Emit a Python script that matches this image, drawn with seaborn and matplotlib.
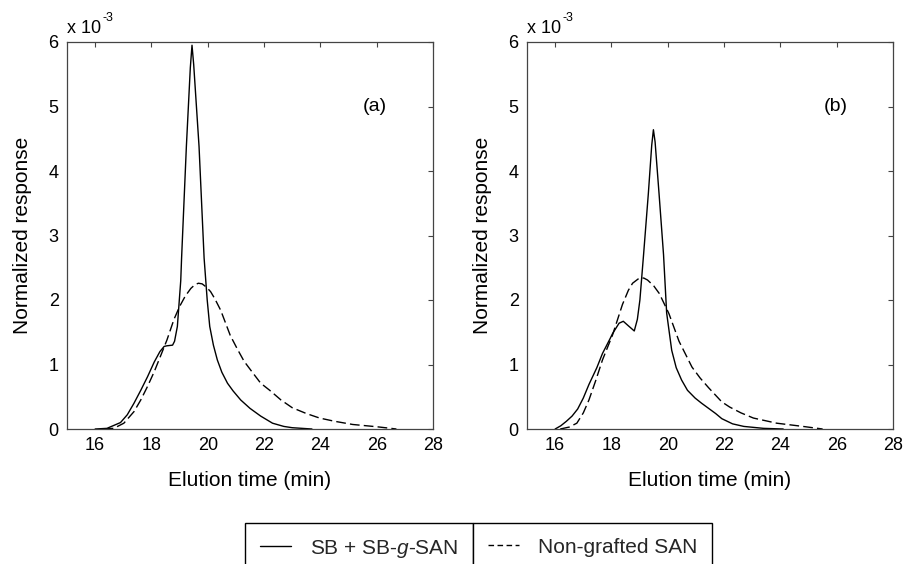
import matplotlib
matplotlib.use("Agg")
import matplotlib.pyplot as plt
from matplotlib.lines import Line2D
import seaborn as sns
import pandas as pd

# ---------------- data (response in units of 10^-3) ----------------
# Panel (a)
time_a_graft = [16.0, 16.42, 16.9, 17.14, 17.38, 17.62, 17.86, 18.1, 18.3, 18.45,
                18.55, 18.75, 18.82, 18.92, 19.04, 19.07, 19.24, 19.38, 19.44, 19.5,
                19.69, 19.87, 19.98, 20.07, 20.2, 20.34, 20.5, 20.7, 20.9, 21.17,
                21.5, 21.88, 22.3, 22.7, 23.0, 23.7]
resp_a_graft = [0.0, 0.01, 0.1, 0.22, 0.4, 0.6, 0.81, 1.04, 1.2, 1.28,
                1.29, 1.3, 1.36, 1.59, 2.3, 2.65, 4.38, 5.6, 5.95, 5.65,
                4.38, 2.65, 2.0, 1.59, 1.3, 1.07, 0.88, 0.71, 0.59, 0.45,
                0.32, 0.2, 0.09, 0.04, 0.02, 0.0]

time_a_free = [16.3, 16.66, 17.02, 17.38, 17.62, 17.86, 18.1, 18.34, 18.55, 18.8,
               19.0, 19.2, 19.4, 19.55, 19.67, 19.8, 19.95, 20.1, 20.25, 20.46,
               20.8, 21.05, 21.29, 21.6, 21.88, 22.2, 22.6, 23.0, 23.5, 23.97,
               24.5, 25.15, 26.0, 26.7]
resp_a_free = [0.0, 0.01, 0.09, 0.27, 0.45, 0.66, 0.89, 1.15, 1.38, 1.7,
               1.9, 2.06, 2.18, 2.24, 2.26, 2.25, 2.2, 2.13, 2.02, 1.84,
               1.45, 1.24, 1.05, 0.87, 0.71, 0.6, 0.45, 0.33, 0.24, 0.17,
               0.12, 0.07, 0.035, 0.0]

# Panel (b)
time_b_graft = [16.0, 16.2, 16.4, 16.6, 16.8, 17.0, 17.2, 17.48, 17.68, 17.95,
                18.04, 18.27, 18.42, 18.6, 18.81, 18.92, 19.01, 19.14, 19.31, 19.43,
                19.49, 19.55, 19.69, 19.85, 19.96, 20.14, 20.3, 20.49, 20.7, 20.97,
                21.2, 21.45, 21.7, 21.92, 22.3, 22.7, 23.4, 24.1]
resp_b_graft = [0.0, 0.05, 0.12, 0.2, 0.31, 0.48, 0.69, 0.95, 1.17, 1.4,
                1.48, 1.64, 1.67, 1.6, 1.52, 1.7, 2.0, 2.7, 3.65, 4.4,
                4.64, 4.45, 3.65, 2.7, 1.8, 1.22, 0.95, 0.76, 0.6, 0.48,
                0.4, 0.32, 0.24, 0.16, 0.08, 0.04, 0.01, 0.0]

time_b_free = [16.18, 16.5, 16.77, 17.0, 17.2, 17.44, 17.68, 18.04, 18.39, 18.6,
               18.75, 18.99, 19.15, 19.28, 19.5, 19.7, 20.04, 20.4, 20.86, 21.15,
               21.45, 21.92, 22.2, 22.6, 23.04, 23.87, 24.8, 25.5]
resp_b_free = [0.0, 0.03, 0.09, 0.25, 0.45, 0.75, 1.07, 1.46, 1.93, 2.15,
               2.26, 2.34, 2.34, 2.31, 2.22, 2.1, 1.79, 1.36, 0.96, 0.79,
               0.64, 0.42, 0.34, 0.25, 0.17, 0.09, 0.04, 0.0]

x_ticks = [16, 18, 20, 22, 24, 26, 28]
y_ticks = [0, 1, 2, 3, 4, 5, 6]
panel_tags = ["(a)", "(b)"]
series_labels = [r"SB + SB-$\mathit{g}$-SAN", "Non-grafted SAN"]

# ---------------- style ----------------
sns.set_theme(style="white")
plt.rcParams["font.family"] = ["Liberation Sans", "DejaVu Sans"]
plt.rcParams["mathtext.fontset"] = "custom"
plt.rcParams["mathtext.rm"] = "Liberation Sans"
plt.rcParams["mathtext.it"] = "Liberation Sans:italic"
plt.rcParams["mathtext.default"] = "regular"

fig = plt.figure(figsize=(9.04, 5.64), dpi=100)
ax_a = fig.add_axes([67 / 904, 1 - 429 / 564, 366 / 904, 387 / 564])
ax_b = fig.add_axes([527 / 904, 1 - 429 / 564, 366 / 904, 387 / 564])

dash_plot = (0, (7, 3))
panels = [
    (ax_a, time_a_graft, resp_a_graft, time_a_free, resp_a_free, panel_tags[0]),
    (ax_b, time_b_graft, resp_b_graft, time_b_free, resp_b_free, panel_tags[1]),
]

for ax, tg, rg, tf, rf, tag in panels:
    df_g = pd.DataFrame({"t": tg, "r": rg})
    df_f = pd.DataFrame({"t": tf, "r": rf})
    sns.lineplot(data=df_g, x="t", y="r", ax=ax, color="black", lw=1.0,
                 estimator=None, sort=False)
    sns.lineplot(data=df_f, x="t", y="r", ax=ax, color="black", lw=1.0,
                 linestyle=dash_plot, estimator=None, sort=False)
    ax.set_xlim(15, 28)
    ax.set_ylim(0, 6)
    ax.set_xticks(x_ticks)
    ax.set_yticks(y_ticks)
    ax.set_xticklabels([str(v) for v in x_ticks])
    ax.set_yticklabels([str(v) for v in y_ticks])
    ax.tick_params(direction="in", top=True, right=True, length=3.5, width=0.8,
                   color="#444444", labelsize=13, labelcolor="black")
    ax.tick_params(axis="x", pad=6)
    ax.tick_params(axis="y", pad=6)
    for sp in ax.spines.values():
        sp.set_color("#444444")
        sp.set_linewidth(0.9)
    ax.set_xlabel("Elution time (min)", fontsize=15, labelpad=12, color="black")
    ax.set_ylabel("Normalized response", fontsize=15, labelpad=12, color="black")
    base = ax.text(0.0, 1.023, "x 10", transform=ax.transAxes, ha="left",
                   va="baseline", fontsize=13, color="black")
    ax.annotate("-3", xy=(1.0, 1.0), xycoords=base, xytext=(1, -3),
                textcoords="offset points", ha="left", va="bottom",
                fontsize=9, color="black")
    ax.text(25.95, 5.0, tag, ha="center", va="center", fontsize=14, color="black")
    ax.grid(False)
    ax.set_facecolor("white")

# ---------------- legend (two boxed cells) ----------------
h_solid = Line2D([], [], color="black", lw=1.0)
h_dash = Line2D([], [], color="black", lw=1.0, linestyle=(0, (4, 2.5)))
anchor = (473 / 904, 1 - 523 / 564)
common = dict(frameon=True, fancybox=False, edgecolor="black", fontsize=15,
              handlelength=1.5, handletextpad=0.9, borderpad=0.7,
              borderaxespad=0.0, framealpha=1.0)
leg1 = fig.legend(handles=[h_solid], labels=[series_labels[0]], loc="upper right",
                  bbox_to_anchor=anchor, **common)
leg2 = fig.legend(handles=[h_dash], labels=[series_labels[1]], loc="upper left",
                  bbox_to_anchor=anchor, **common)
for lg in (leg1, leg2):
    lg.get_frame().set_linewidth(1.0)

fig.savefig("out.png", dpi=100, facecolor="white")
